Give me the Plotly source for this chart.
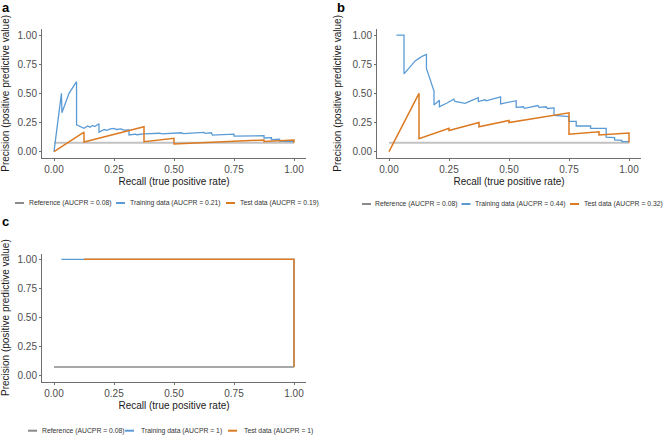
import plotly.graph_objects as go

# ---------------- data ----------------
ref_recall = [0.0, 1.0]
ref_precision = [0.077, 0.077]

# panel a
a_train_recall = [0.0, 0.031, 0.033, 0.0625, 0.094, 0.094, 0.125, 0.14, 0.15, 0.16, 0.17, 0.1875, 0.1875,
                  0.21, 0.22, 0.235, 0.25, 0.26, 0.28, 0.29, 0.3125, 0.3125, 0.34, 0.345, 0.375, 0.41,
                  0.44, 0.45, 0.5, 0.53, 0.54, 0.6, 0.625, 0.63, 0.656, 0.66, 0.72, 0.75, 0.75, 0.84,
                  0.875, 0.875, 0.906, 0.906, 0.94, 0.94, 0.97, 1.0]
a_train_precision = [0.0, 0.5, 0.333, 0.5, 0.6, 0.23, 0.2, 0.22, 0.21, 0.225, 0.215, 0.24, 0.167,
                     0.19, 0.183, 0.196, 0.2, 0.19, 0.195, 0.185, 0.187, 0.143, 0.15, 0.145, 0.152, 0.157,
                     0.158, 0.152, 0.16, 0.162, 0.155, 0.164, 0.166, 0.157, 0.162, 0.142, 0.147, 0.15, 0.133, 0.135,
                     0.137, 0.117, 0.12, 0.103, 0.106, 0.09, 0.09, 0.086]
a_test_recall = [0.0, 0.125, 0.125, 0.375, 0.375, 0.5, 0.5, 0.75, 0.875, 0.875, 1.0, 1.0]
a_test_precision = [0.0, 0.167, 0.083, 0.214, 0.086, 0.114, 0.066, 0.092, 0.1, 0.0875, 0.099, 0.077]

# panel b
b_train_recall = [0.031, 0.0625, 0.0625, 0.08, 0.094, 0.11, 0.125, 0.14, 0.156, 0.156, 0.1875, 0.1875,
                  0.21, 0.21, 0.24, 0.27, 0.275, 0.317, 0.345, 0.372, 0.372, 0.40, 0.405, 0.4375, 0.465,
                  0.465, 0.5, 0.53, 0.53, 0.56, 0.565, 0.6, 0.62, 0.625, 0.655, 0.66, 0.6875, 0.6875,
                  0.72, 0.75, 0.75, 0.78, 0.78, 0.84, 0.84, 0.905, 0.905, 0.94, 0.94, 0.97, 0.97, 1.0]
b_train_precision = [1.0, 1.0, 0.667, 0.71, 0.75, 0.78, 0.80, 0.82, 0.833, 0.714, 0.52, 0.40,
                     0.44, 0.386, 0.415, 0.45, 0.43, 0.414, 0.44, 0.463, 0.43, 0.445, 0.436, 0.455, 0.47,
                     0.41, 0.425, 0.437, 0.38, 0.385, 0.371, 0.39, 0.395, 0.38, 0.385, 0.37, 0.375, 0.31,
                     0.305, 0.30, 0.26, 0.26, 0.22, 0.22, 0.20, 0.20, 0.125, 0.12, 0.10, 0.097, 0.086, 0.086]
b_test_recall = [0.0, 0.125, 0.125, 0.25, 0.25, 0.375, 0.375, 0.5, 0.5, 0.75, 0.75, 0.875, 0.875, 1.0, 1.0]
b_test_precision = [0.0, 0.5, 0.111, 0.2, 0.182, 0.25, 0.214, 0.267, 0.25, 0.333, 0.15, 0.171, 0.143, 0.16, 0.077]

# panel c
c_train_recall = [0.031, 1.0, 1.0]
c_train_precision = [1.0, 1.0, 0.077]
c_test_recall = [0.125, 1.0, 1.0]
c_test_precision = [1.0, 1.0, 0.077]

panel_letters = ["a", "b", "c"]
series_names = ["Reference", "Training data", "Test data"]
aucpr_a = ["0.08", "0.21", "0.19"]
aucpr_b = ["0.08", "0.44", "0.32"]
aucpr_c = ["0.08", "1", "1"]

tick_vals = [0, 0.25, 0.5, 0.75, 1.0]
tick_text = ["0.00", "0.25", "0.50", "0.75", "1.00"]
x_title = "Recall (true positive rate)"
y_title = "Precision (positive predictive value)"

# ---------------- style ----------------
W, H = 669, 435
FONT = "Liberation Sans, Arial, Helvetica, sans-serif"
GRAY_AB = "#c2c2c2"
GRAY_C = "#8a8a8a"
BLUE = "#5b9bd5"
ORANGE = "#dc7a22"
KEY_COLORS = ["#8a8a8a", BLUE, ORANGE]


def px(x):
    return x / W


def py(y):
    return 1 - y / H


fig = go.Figure()

panels = [
    ("x", "y", a_train_recall, a_train_precision, a_test_recall, a_test_precision, GRAY_AB, 2.0),
    ("x2", "y2", b_train_recall, b_train_precision, b_test_recall, b_test_precision, GRAY_AB, 2.0),
    ("x3", "y3", c_train_recall, c_train_precision, c_test_recall, c_test_precision, GRAY_C, 1.3),
]
for xa, ya, trx, try_, tex, tey, gcol, gw in panels:
    fig.add_trace(go.Scatter(x=ref_recall, y=ref_precision, mode="lines", xaxis=xa, yaxis=ya,
                             line=dict(color=gcol, width=gw), showlegend=False, name=series_names[0]))
    fig.add_trace(go.Scatter(x=trx, y=try_, mode="lines", xaxis=xa, yaxis=ya,
                             line=dict(color=BLUE, width=1.3), showlegend=False, name=series_names[1]))
    fig.add_trace(go.Scatter(x=tex, y=tey, mode="lines", xaxis=xa, yaxis=ya,
                             line=dict(color=ORANGE, width=1.5), showlegend=False, name=series_names[2]))

common_axis = dict(
    range=[-0.05, 1.05], tickvals=tick_vals, ticktext=tick_text,
    showline=True, linecolor="#6e6e6e", linewidth=1, ticks="outside", ticklen=2,
    tickcolor="#6e6e6e", tickwidth=1, showgrid=False, zeroline=False,
    tickfont=dict(family=FONT, size=10, color="#4d4d4d"),
)

domains = {
    "a": dict(x=[px(42), px(306)], y=[py(157.5), py(29.2)]),
    "b": dict(x=[px(377), px(641)], y=[py(157.5), py(29.2)]),
    "c": dict(x=[px(42), px(306)], y=[py(381.8), py(253.5)]),
}

layout = dict(
    width=W, height=H, margin=dict(l=0, r=0, t=0, b=0),
    paper_bgcolor="white", plot_bgcolor="white", showlegend=False,
    font=dict(family=FONT, color="#1a1a1a"),
)
for i, key in enumerate(["a", "b", "c"]):
    sfx = "" if i == 0 else str(i + 1)
    layout["xaxis" + sfx] = dict(common_axis, domain=domains[key]["x"], anchor="y" + sfx,
                                 title=dict(text=x_title, font=dict(family=FONT, size=10, color="#1a1a1a"),
                                            standoff=4))
    layout["yaxis" + sfx] = dict(common_axis, domain=domains[key]["y"], anchor="x" + sfx,
                                 title=dict(text=y_title, font=dict(family=FONT, size=10, color="#1a1a1a"),
                                            standoff=9))
fig.update_layout(**layout)

annotations = []
shapes = []
# panel letters
for letter, (lx, ly) in zip(panel_letters, [(0, -2), (335, -2), (0, 212)]):
    annotations.append(dict(text="<b>%s</b>" % letter, x=px(lx), y=py(ly), xref="paper", yref="paper",
                            xanchor="left", yanchor="top", showarrow=False,
                            font=dict(family=FONT, size=13, color="black")))

# legends (one per panel): key start x, text start x (pixels), row y
legend_rows = [
    (aucpr_a, 203, [15, 116, 226], [26.5, 127.5, 237.5]),
    (aucpr_b, 204, [362, 461.5, 570], [373.5, 473, 581.5]),
    (aucpr_c, 430.7, [28, 125, 228], [39.5, 138.5, 241.5]),
]
for aucs, yrow, keyx, textx in legend_rows:
    for name, auc, kx, tx, kc in zip(series_names, aucs, keyx, textx, KEY_COLORS):
        shapes.append(dict(type="line", xref="paper", yref="paper", x0=px(kx), x1=px(kx + 9),
                           y0=py(yrow), y1=py(yrow), line=dict(color=kc, width=2)))
        annotations.append(dict(text="%s (AUCPR = %s)" % (name, auc), x=px(tx), y=py(yrow),
                                xref="paper", yref="paper", xanchor="left", yanchor="middle",
                                showarrow=False, font=dict(family=FONT, size=6.8, color="#333333")))

fig.update_layout(annotations=annotations, shapes=shapes)
fig.write_html("out.html")
